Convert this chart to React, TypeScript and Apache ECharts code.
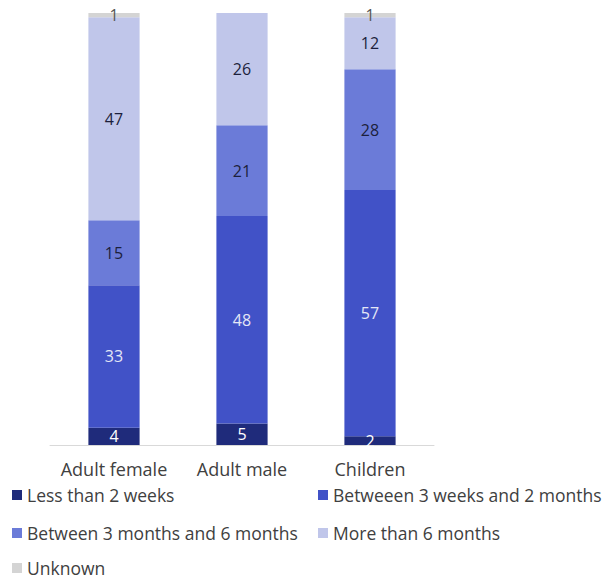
import React, { useEffect, useRef } from "react";
import * as echarts from "echarts";

const categories = ["Adult female", "Adult male", "Children"];
const seriesNames = [
  "Less than 2 weeks",
  "Betweeen 3 weeks and 2 months",
  "Between 3 months and 6 months",
  "More than 6 months",
  "Unknown",
];
const lessThan2Weeks = [4, 5, 2];
const weeks3To2Months = [33, 48, 57];
const months3To6 = [15, 21, 28];
const moreThan6Months = [47, 26, 12];
const unknown = [1, 0, 1];

const colors = ["#1f2b7b", "#4152c7", "#6b7bd8", "#c0c6ea", "#d4d4d4"];
const labelColors = ["#ffffff", "#e4e7f6", "#1c1f3c", "#1c1f3c", "#555555"];

export default function App() {
  const ref = useRef<HTMLDivElement>(null);
  useEffect(() => {
    const chart = echarts.init(ref.current!, null, { renderer: "svg" });
    const values = [lessThan2Weeks, weeks3To2Months, months3To6, moreThan6Months, unknown];
    const font = "'Open Sans', 'Noto Sans', sans-serif";
    const legendPos = [
      { left: 4, top: 478 },
      { left: 310, top: 478 },
      { left: 4, top: 516 },
      { left: 310, top: 516 },
      { left: 4, top: 551 },
    ];
    chart.setOption({
      animation: false,
      grid: { left: 42, right: 177, top: 5, bottom: 133 },
      xAxis: {
        type: "category",
        data: categories,
        axisLine: { lineStyle: { color: "#d9d9d9" } },
        axisTick: { show: false },
        axisLabel: {
          interval: 0,
          hideOverlap: false,
          color: "#404040",
          fontSize: 18,
          fontFamily: font,
          margin: 15,
        },
      },
      yAxis: { type: "value", min: 0, max: 100, show: false, splitLine: { show: false } },
      legend: seriesNames.map((n, i) => ({
        data: [n],
        left: legendPos[i].left,
        top: legendPos[i].top,
        padding: 0,
        itemWidth: 10,
        itemHeight: 10,
        itemGap: 6,
        icon: "rect",
        textStyle: { color: "#404040", fontSize: 17.5, fontFamily: font },
      })),
      series: seriesNames.map((n, i) => ({
        name: n,
        type: "bar",
        stack: "total",
        barWidth: "40%",
        data: values[i],
        itemStyle: { color: colors[i] },
        label: {
          show: true,
          position: "inside",
          color: labelColors[i],
          fontSize: 16,
          fontFamily: font,
          formatter: (p: any) => (p.value ? String(p.value) : ""),
        },
      })),
    });
    return () => chart.dispose();
  }, []);
  return <div ref={ref} style={{ width: 603, height: 570 }} />;
}
